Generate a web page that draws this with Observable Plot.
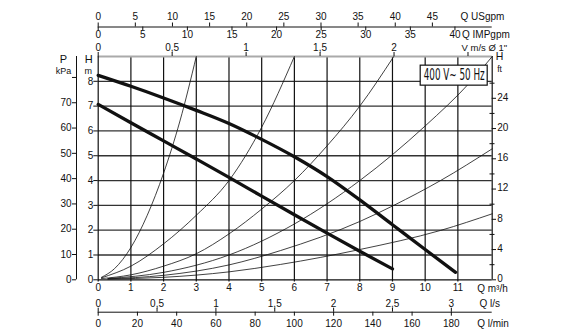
<!DOCTYPE html>
<html><head><meta charset="utf-8">
<script src="https://cdn.jsdelivr.net/npm/d3@7"></script>
<script src="https://cdn.jsdelivr.net/npm/@observablehq/plot@0.6"></script>
<style>body{margin:0;background:#fff}</style>
</head><body><div id="chart"></div>
<script>
// ---------- data ----------
const qTicks = [0,1,2,3,4,5,6,7,8,9,10,11];            // Q m³/h
const hTicks = [0,1,2,3,4,5,6,7,8];                     // H m
const kpaTicks = [0,10,20,30,40,50,60,70,80];           // P kPa (ticks)
const kpaLabels = [0,10,20,30,40,50,60,70];             // P kPa (labelled)
const ftMajor = [0,4,8,12,16,20,24];                    // H ft
const ftMinor = [2,6,10,14,18,22,26];
const usgTicks = [0,5,10,15,20,25,30,35,40,45];         // Q USgpm
const impTicks = [0,5,10,15,20,25,30,35,40];            // Q IMPgpm
const velTicks = [0,0.5,1,1.5,2,2.5];                   // V m/s
const velLabels = ["0","0,5","1","1,5","2",""];
const lsTicks = [0,0.5,1,1.5,2,2.5,3];                  // Q l/s
const lsLabels = ["0","0,5","1","1,5","2","2,5","3"];
const lminTicks = [0,20,40,60,80,100,120,140,160,180];  // Q l/min

// pump curves (Q m³/h, H m)
const highQ = [0,1,2,3,4,5,6,7,8,9,10,10.93];
const highH = [8.24,7.8,7.33,6.83,6.3,5.66,4.96,4.16,3.22,2.22,1.22,0.3];
const lowQ = [0,1,2,3,4,5,6,7,8,9];
const lowH = [7.07,6.33,5.6,4.87,4.13,3.37,2.62,1.88,1.15,0.44];

// system curves
const sys1Q = [0.1,0.5,1,1.5,2,2.5,3];
const sys1H = [0.1,0.45,1.3,2.6,4.3,6.4,9.0];
const sys2Q = [0.1,1,2,3,4,5,6];
const sys2H = [0.08,0.55,1.45,2.6,4.0,6.15,9.0];
const sys3Q = [0.1,1,2,3,4,5,6,7,8,9.04];
const sys3H = [0.05,0.2,0.55,1.05,1.85,2.85,4.0,5.4,7.0,9.0];
const sys4Q = [0.3,2,4,6,8,10,11.38,12.05];
const sys4H = [0.05,0.3,1.0,2.25,4.0,6.2,7.97,9.0];
const sys5Q = [0.3,2,4,5.58,8,9.04,10.47,12.05];
const sys5H = [0.04,0.18,0.6,1.18,2.35,3.0,4.0,5.28];
const sys6Q = [0.3,2,4,5.58,8,10.47,12.05];
const sys6H = [0.03,0.1,0.32,0.62,1.22,1.99,2.66];

const boxLabel = "400 V~ 50 Hz";

// unit conversions to m³/h and m
const USG = 0.227125, IMP = 0.272765, LS = 3.6, LMIN = 0.06;
const VEL = 3600 * Math.PI * 0.02 * 0.02;
const KPA = 1 / 9.81, FT = 0.3048;

// ---------- layout ----------
const W = 566, HGT = 332, mL = 97.7, mR = 74.3, mT = 56, mB = 52.7;
const X_MAX = 12.05, Y_MAX = 9;
const xv = px => X_MAX * (px - mL) / (W - mL - mR);
const yv = py => Y_MAX * (HGT - mB - py) / (HGT - mT - mB);

const pts = (Q, H, name) => Q.map((q, i) => ({q, h: H[i], name}));
const systems = [
  ...pts(sys1Q, sys1H, "s1"), ...pts(sys2Q, sys2H, "s2"), ...pts(sys3Q, sys3H, "s3"),
  ...pts(sys4Q, sys4H, "s4"), ...pts(sys5Q, sys5H, "s5"), ...pts(sys6Q, sys6H, "s6")
];
const pumps = [...pts(highQ, highH, "high"), ...pts(lowQ, lowH, "low")];

const ink = "#111";
const T = (data, o) => Plot.text(data, {fontSize: 10, fill: ink, ...o});

const yTopAxis = yv(26.5), yBotAxis = yv(311.7);

const chart = Plot.plot({
  width: W, height: HGT,
  marginLeft: mL, marginRight: mR, marginTop: mT, marginBottom: mB,
  x: {domain: [0, X_MAX], axis: null},
  y: {domain: [0, Y_MAX], axis: null},
  style: {fontFamily: "'Liberation Sans', Arial, sans-serif", fontSize: "10px", background: "#fff", color: ink},
  marks: [
    // grid
    Plot.ruleY(hTicks.filter(d => d > 0), {x1: 0, x2: X_MAX, stroke: "#333", strokeWidth: 1.3}),
    Plot.ruleX(qTicks.filter(d => d > 0), {y1: yv(281.5), y2: Y_MAX, stroke: ink, strokeWidth: 1.2}),
    Plot.ruleY([Y_MAX], {x1: 0, x2: X_MAX, stroke: "#aaa", strokeWidth: 2}),
    Plot.ruleY([0], {x1: 0, x2: X_MAX, stroke: ink, strokeWidth: 1.2}),
    Plot.ruleX([0], {y1: yv(281.5), y2: Y_MAX, stroke: ink, strokeWidth: 1.2}),
    Plot.ruleX([X_MAX], {y1: 0, y2: Y_MAX, stroke: ink, strokeWidth: 1.2}),

    // system curves and pump curves
    Plot.line(systems, {x: "q", y: "h", z: "name", curve: "monotone-x", stroke: ink, strokeWidth: 0.8}),
    Plot.line(pumps, {x: "q", y: "h", z: "name", curve: "monotone-x", stroke: ink, strokeWidth: 3.3}),

    // left H m axis
    Plot.ruleY(hTicks, {x1: xv(93.3), x2: 0, stroke: ink}),
    T(hTicks, {x: 0, y: d => d, dx: -5, textAnchor: "end"}),
    T(["H"], {x: xv(88.3), y: yv(59), fontSize: 11}),
    T(["m"], {x: xv(87.8), y: yv(70.5), fontSize: 9}),

    // P kPa axis
    Plot.ruleX([xv(76)], {y1: 0, y2: Y_MAX, stroke: ink}),
    Plot.ruleY(kpaTicks, {y: d => d * KPA, x1: xv(72), x2: xv(76), stroke: ink}),
    T(kpaLabels, {x: xv(76), y: d => d * KPA, dx: -5, textAnchor: "end"}),
    T(["P"], {x: xv(63), y: yv(59), fontSize: 11}),
    T(["kPa"], {x: xv(63), y: yv(70.5), fontSize: 9}),

    // right H ft axis
    Plot.ruleY(ftMajor, {y: d => d * FT, x1: X_MAX, x2: xv(496), stroke: ink}),
    Plot.ruleY(ftMinor, {y: d => d * FT, x1: xv(489.5), x2: xv(494.5), stroke: ink}),
    T(ftMajor, {x: X_MAX, y: d => d * FT, dx: 5, dy: -1, textAnchor: "start"}),
    T(["H"], {x: xv(499), y: yv(56.5), fontSize: 10.5}),
    T(["ft"], {x: xv(499), y: yv(68.5), fontSize: 8.5}),

    // top axes: USgpm / IMPgpm
    Plot.ruleY([yTopAxis], {x1: 0, x2: X_MAX, stroke: ink}),
    Plot.ruleX(usgTicks, {x: d => d * USG, y1: yTopAxis, y2: yv(22.5), stroke: ink}),
    T(usgTicks, {x: d => d * USG, y: yv(16.7)}),
    T(["Q USgpm"], {x: xv(460), y: yv(16.7), textAnchor: "start"}),
    Plot.ruleX(impTicks, {x: d => d * IMP, y1: yTopAxis, y2: yv(30.5), stroke: ink}),
    T(impTicks, {x: d => d * IMP, y: yv(34.7)}),
    T(["Q IMPgpm"], {x: xv(461.5), y: yv(34.7), textAnchor: "start"}),

    // velocity axis
    Plot.ruleX(velTicks, {x: d => d * VEL, y1: Y_MAX, y2: yv(52), stroke: ink}),
    T(velTicks, {x: d => d * VEL, y: yv(47.5), text: (d, i) => velLabels[i]}),
    T(["V m/s Ø 1\""], {x: xv(461), y: yv(47.5), textAnchor: "start", fontSize: 9.5}),

    // bottom axes
    T(qTicks, {x: d => d, y: yv(287)}),
    T(["Q m³/h"], {x: xv(476.7), y: yv(288), textAnchor: "start"}),
    Plot.ruleY([yBotAxis], {x1: 0, x2: X_MAX, stroke: ink}),
    Plot.ruleX(lsTicks, {x: d => d * LS, y1: yBotAxis, y2: yv(307.7), stroke: ink}),
    T(lsTicks, {x: d => d * LS, y: yv(303.3), text: (d, i) => lsLabels[i]}),
    T(["Q l/s"], {x: xv(479), y: yv(303.3), textAnchor: "start"}),
    Plot.ruleX(lminTicks, {x: d => d * LMIN, y1: yBotAxis, y2: yv(315.7), stroke: ink}),
    T(lminTicks, {x: d => d * LMIN, y: yv(323.3)}),
    T(["Q l/min"], {x: xv(476.7), y: yv(323.3), textAnchor: "start"}),

    // voltage label
    T([boxLabel], {frameAnchor: "top-right", dx: -7.5, dy: 13, textAnchor: "end",
      fontSize: 15, fontFamily: "'Liberation Sans Narrow', 'DejaVu Sans Condensed', sans-serif"})
  ]
});

document.getElementById("chart").appendChild(chart);

// squeeze the voltage label to the reference width and frame it
d3.select(chart).selectAll("text").filter(function () { return this.textContent === boxLabel; }).each(function () {
  d3.select(this).attr("textLength", 61).attr("lengthAdjust", "spacingAndGlyphs");
  const b = this.getBBox();
  const m = this.getCTM();
  const right = m.e + b.x + b.width, cy = m.f + b.y + b.height / 2;
  d3.select(this.ownerSVGElement).insert("rect", () => this.closest("g"))
    .attr("x", right - 64.5).attr("y", cy - 10)
    .attr("width", 67).attr("height", 20)
    .attr("fill", "#fff").attr("stroke", ink).attr("stroke-width", 1.2);
});
</script>
</body></html>
